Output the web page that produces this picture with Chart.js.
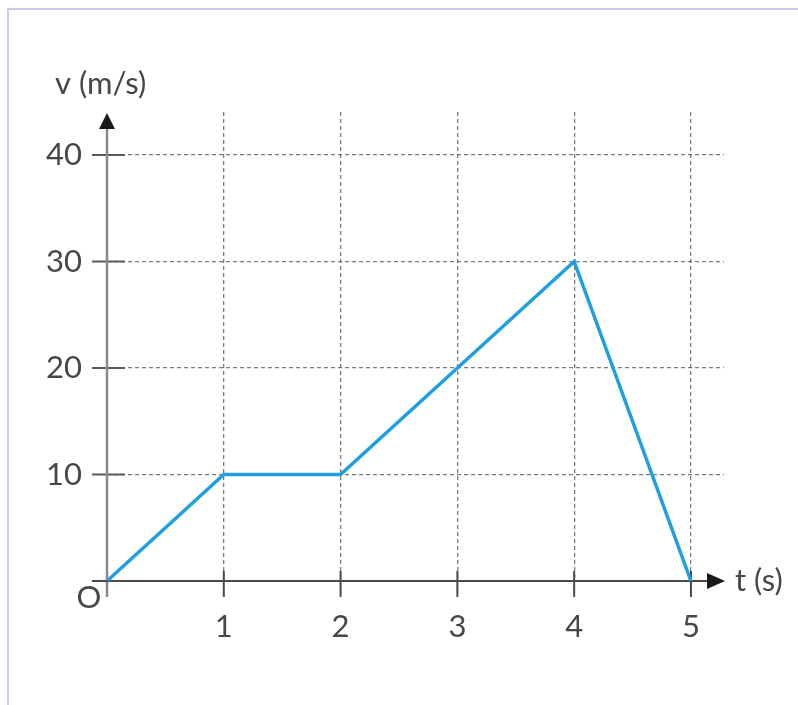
<!DOCTYPE html>
<html>
<head>
<meta charset="utf-8">
<script src="https://cdn.jsdelivr.net/npm/chart.js@4.4.1/dist/chart.umd.min.js"></script>
<style>
  html, body { margin: 0; padding: 0; background: #ffffff; }
  #wrap { position: relative; width: 798px; height: 705px; overflow: hidden; }
  #frame { position: absolute; left: 7px; top: 8px; right: -10px; bottom: -10px;
           border-left: 2px solid #cbcbe9; border-top: 2px solid #cbcbe9; pointer-events: none; }
  canvas { position: absolute; left: 0; top: 0; }
</style>
</head>
<body>
<div id="wrap">
  <canvas id="c" width="798" height="705"></canvas>
  <div id="frame"></div>
</div>
<script>
// ---- data ----
const timeValues = [0, 1, 2, 3, 4, 5];
const velocityValues = [0, 10, 10, 20, 30, 0];
const xTickValues = [1, 2, 3, 4, 5];
const xTickLabels = ['1', '2', '3', '4', '5'];
const yTickValues = [10, 20, 30, 40];
const yTickLabels = ['10', '20', '30', '40'];
const yAxisTitle = 'v (m/s)';
const xAxisTitle = 't (s)';
const originLabel = 'O';

const FONT = 'Lato, "Open Sans", sans-serif';
const TEXT_COLOR = '#474747';

const axesPlugin = {
  id: 'axesPlugin',
  beforeDatasetsDraw(chart) {
    const ctx = chart.ctx;
    const xs = chart.scales.x, ys = chart.scales.y;
    const x0 = xs.getPixelForValue(0), y0 = ys.getPixelForValue(0);
    const top = chart.chartArea.top;
    ctx.save();
    // y ticks (crossing the axis)
    ctx.strokeStyle = '#5a5a5a';
    ctx.lineWidth = 2;
    yTickValues.forEach(v => {
      const y = ys.getPixelForValue(v);
      ctx.beginPath(); ctx.moveTo(x0 - 15, y); ctx.lineTo(x0 + 18, y); ctx.stroke();
    });
    // x ticks (crossing the axis)
    ctx.strokeStyle = '#4a4a4a';
    xTickValues.forEach(v => {
      const x = xs.getPixelForValue(v);
      ctx.beginPath(); ctx.moveTo(x, y0 - 10); ctx.lineTo(x, y0 + 16); ctx.stroke();
    });
    // y axis
    ctx.strokeStyle = '#8a8a8a';
    ctx.lineWidth = 2.5;
    ctx.beginPath(); ctx.moveTo(x0, y0 + 16); ctx.lineTo(x0, top + 14); ctx.stroke();
    ctx.fillStyle = '#1a1a1a';
    ctx.beginPath();
    ctx.moveTo(x0, top + 1); ctx.lineTo(x0 - 8, top + 17); ctx.lineTo(x0 + 8, top + 17); ctx.closePath(); ctx.fill();
    // x axis
    const xEnd = chart.chartArea.right;
    ctx.strokeStyle = '#4a4a4a';
    ctx.lineWidth = 2;
    ctx.beginPath(); ctx.moveTo(x0 - 15, y0); ctx.lineTo(xEnd - 14, y0); ctx.stroke();
    ctx.fillStyle = '#1a1a1a';
    ctx.beginPath();
    ctx.moveTo(xEnd + 1, y0); ctx.lineTo(xEnd - 17, y0 - 8); ctx.lineTo(xEnd - 17, y0 + 8); ctx.closePath(); ctx.fill();
    // titles
    ctx.fillStyle = TEXT_COLOR;
    ctx.font = '31px ' + FONT;
    ctx.textBaseline = 'middle';
    ctx.textAlign = 'left';
    ctx.fillText(yAxisTitle, 55, 84);
    ctx.fillText(xAxisTitle, xEnd + 11, y0);
    ctx.textAlign = 'center';
    ctx.fillText(originLabel, x0 - 18, y0 + 17);
    ctx.restore();
  }
};

new Chart(document.getElementById('c'), {
  type: 'line',
  data: {
    datasets: [{
      data: timeValues.map((t, i) => ({ x: t, y: velocityValues[i] })),
      borderColor: '#1f9fe0',
      borderWidth: 3.5,
      pointRadius: 0,
      tension: 0,
      fill: false
    }]
  },
  options: {
    responsive: false,
    animation: false,
    devicePixelRatio: 1,
    layout: { padding: { left: 0, top: 112, right: 74, bottom: 0 } },
    plugins: { legend: { display: false }, tooltip: { enabled: false } },
    scales: {
      x: {
        type: 'linear',
        min: 0,
        max: 5.283,
        afterBuildTicks: s => { s.ticks = xTickValues.map(v => ({ value: v })); },
        afterFit: s => { s.height = 124; },
        ticks: {
          callback: (v) => xTickLabels[xTickValues.indexOf(v)],
          padding: 27,
          color: TEXT_COLOR,
          font: { family: FONT, size: 31 },
          maxRotation: 0
        },
        grid: { drawTicks: false, color: 'rgba(80,80,80,0.75)', lineWidth: 1.3 },
        border: { display: false, dash: [4, 3] }
      },
      y: {
        type: 'linear',
        min: 0,
        max: 44.04,
        afterBuildTicks: s => { s.ticks = yTickValues.map(v => ({ value: v })); },
        afterFit: s => { s.width = 107; },
        ticks: {
          callback: (v) => yTickLabels[yTickValues.indexOf(v)],
          padding: 25,
          color: TEXT_COLOR,
          font: { family: FONT, size: 31 }
        },
        grid: { drawTicks: false, color: 'rgba(80,80,80,0.75)', lineWidth: 1.3 },
        border: { display: false, dash: [4, 3] }
      }
    }
  },
  plugins: [axesPlugin]
});
</script>
</body>
</html>
